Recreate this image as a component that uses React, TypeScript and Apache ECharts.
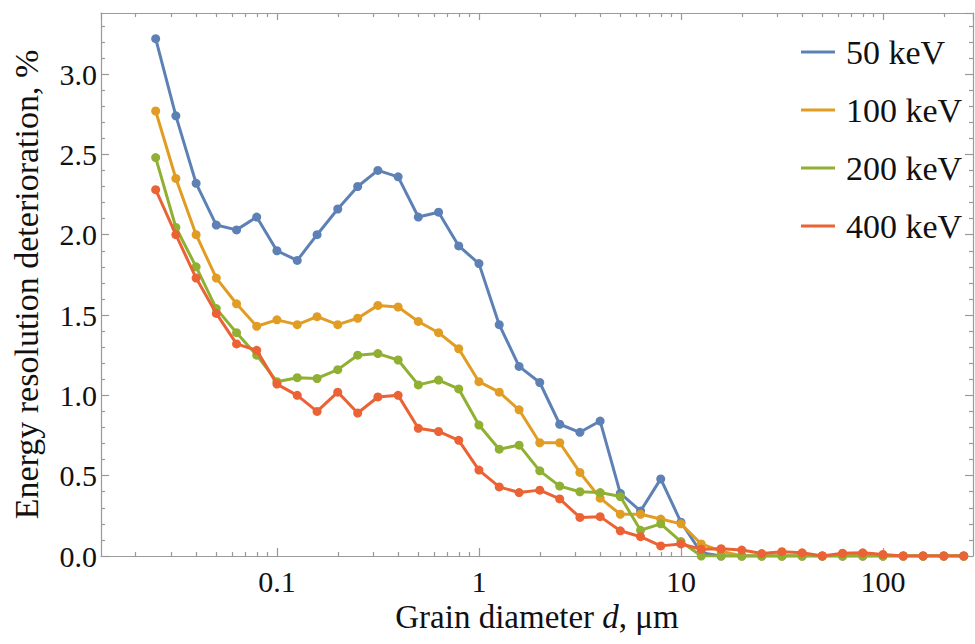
import React, { useEffect, useRef } from "react";
import * as echarts from "echarts";

// Grain diameter d, μm (log-spaced sample points)
const diameters = [
  0.0251, 0.0316, 0.0398, 0.0501, 0.0631, 0.0794, 0.1, 0.126, 0.158, 0.2,
  0.251, 0.316, 0.398, 0.501, 0.631, 0.794, 1, 1.26, 1.58, 2,
  2.51, 3.16, 3.98, 5.01, 6.31, 7.94, 10, 12.6, 15.8, 20,
  25.1, 31.6, 39.8, 50.1, 63.1, 79.4, 100, 126, 158, 200, 251,
];

const kev50 = [
  3.22, 2.74, 2.32, 2.06, 2.03, 2.11, 1.9, 1.84, 2.0, 2.16,
  2.3, 2.4, 2.36, 2.11, 2.14, 1.93, 1.82, 1.44, 1.18, 1.08,
  0.82, 0.77, 0.84, 0.39, 0.28, 0.48, 0.21, 0.02, 0, 0,
  0, 0, 0, 0, 0, 0, 0, 0, 0, 0, 0,
];
const kev100 = [
  2.77, 2.35, 2.0, 1.73, 1.57, 1.43, 1.47, 1.44, 1.49, 1.44,
  1.48, 1.56, 1.55, 1.46, 1.39, 1.29, 1.085, 1.02, 0.91, 0.705,
  0.705, 0.52, 0.36, 0.26, 0.26, 0.23, 0.2, 0.075, 0.03, 0,
  0, 0, 0, 0, 0, 0, 0, 0, 0, 0, 0,
];
const kev200 = [
  2.48, 2.045, 1.8, 1.54, 1.39, 1.25, 1.085, 1.11, 1.105, 1.16,
  1.25, 1.26, 1.22, 1.065, 1.095, 1.04, 0.815, 0.665, 0.69, 0.53,
  0.435, 0.4, 0.395, 0.37, 0.16, 0.2, 0.09, 0.0, 0, 0,
  0, 0, 0, 0, 0, 0, 0, 0, 0, 0, 0,
];
const kev400 = [
  2.28, 2.0, 1.73, 1.51, 1.32, 1.28, 1.07, 1.0, 0.9, 1.02,
  0.89, 0.99, 1.0, 0.795, 0.775, 0.72, 0.535, 0.43, 0.395, 0.41,
  0.355, 0.24, 0.245, 0.157, 0.12, 0.063, 0.075, 0.042, 0.045, 0.037,
  0.015, 0.027, 0.02, 0, 0.017, 0.02, 0.01, 0, 0, 0, 0,
];

const seriesNames = ["50 keV", "100 keV", "200 keV", "400 keV"];
const seriesColors = ["#5E81B5", "#E19C24", "#8FB032", "#EB6235"];
const seriesValues = [kev50, kev100, kev200, kev400];

const xMin = 0.01346;
const xMax = 279;
const yMin = 0;
const yMax = 3.38;

const xMinorTicks = [
  0.02, 0.03, 0.04, 0.05, 0.06, 0.07, 0.08, 0.09,
  0.2, 0.3, 0.4, 0.5, 0.6, 0.7, 0.8, 0.9,
  2, 3, 4, 5, 6, 7, 8, 9,
  20, 30, 40, 50, 60, 70, 80, 90,
  200,
];
const yMinorTicks = [
  0.1, 0.2, 0.3, 0.4, 0.6, 0.7, 0.8, 0.9, 1.1, 1.2, 1.3, 1.4,
  1.6, 1.7, 1.8, 1.9, 2.1, 2.2, 2.3, 2.4, 2.6, 2.7, 2.8, 2.9,
  3.1, 3.2, 3.3,
];

const FONT = "'Times New Roman', 'Liberation Serif', 'DejaVu Serif', serif";
const FRAME = "#9a9a9a";

export default function App() {
  const ref = useRef<HTMLDivElement>(null);

  useEffect(() => {
    if (!ref.current) return;
    const chart = echarts.init(ref.current, undefined, { renderer: "svg" });

    const lg = (v: number) => Math.log10(v);
    const frameLine = { show: true, onZero: false, lineStyle: { color: FRAME, width: 1.2 } };
    const noLine = { show: false, onZero: false };

    const minorX = (position: "bottom" | "top") => ({
      type: "value",
      position,
      min: lg(xMin),
      max: lg(xMax),
      axisLine: noLine,
      axisTick: {
        show: true,
        inside: true,
        length: 4,
        customValues: xMinorTicks.map(lg),
        lineStyle: { color: FRAME, width: 1.2 },
      },
      axisLabel: { show: false },
      splitLine: { show: false },
    });

    const minorY = (position: "left" | "right") => ({
      type: "value",
      position,
      min: yMin,
      max: yMax,
      axisLine: noLine,
      axisTick: {
        show: true,
        inside: true,
        length: 4,
        customValues: yMinorTicks,
        lineStyle: { color: FRAME, width: 1.2 },
      },
      axisLabel: { show: false },
      splitLine: { show: false },
    });

    const option: any = {
      animation: false,
      backgroundColor: "#ffffff",
      textStyle: { fontFamily: FONT },
      grid: { left: 101, top: 13, right: 2, bottom: 88, containLabel: false },
      legend: {
        orient: "vertical",
        left: 796,
        top: 30,
        icon: "rect",
        itemWidth: 34,
        itemHeight: 3,
        itemGap: 24,
        data: seriesNames,
        textStyle: {
          fontFamily: FONT,
          fontSize: 34,
          lineHeight: 34,
          color: "#111",
          padding: [0, 0, 0, 6],
        },
      },
      xAxis: [
        {
          type: "log",
          logBase: 10,
          position: "bottom",
          min: xMin,
          max: xMax,
          axisLine: frameLine,
          axisTick: { show: true, inside: true, length: 8, lineStyle: { color: FRAME, width: 1.2 } },
          axisLabel: {
            show: true,
            showMinLabel: false,
            showMaxLabel: false,
            margin: 10,
            fontFamily: FONT,
            fontSize: 30,
            color: "#111",
          },
          splitLine: { show: false },
          name: "Grain diameter {i|d}, μm",
          nameLocation: "middle",
          nameGap: 37,
          nameTextStyle: {
            fontFamily: FONT,
            fontSize: 33,
            color: "#111",
            rich: { i: { fontFamily: FONT, fontSize: 33, fontStyle: "italic", color: "#111" } },
          },
        },
        {
          type: "log",
          logBase: 10,
          position: "top",
          min: xMin,
          max: xMax,
          axisLine: frameLine,
          axisTick: { show: true, inside: true, length: 7, lineStyle: { color: FRAME, width: 1.2 } },
          axisLabel: { show: false },
          splitLine: { show: false },
        },
        minorX("bottom"),
        minorX("top"),
      ],
      yAxis: [
        {
          type: "value",
          position: "left",
          min: yMin,
          max: yMax,
          interval: 0.5,
          axisLine: frameLine,
          axisTick: { show: true, inside: true, length: 8, lineStyle: { color: FRAME, width: 1.2 } },
          axisLabel: {
            show: true,
            showMaxLabel: false,
            margin: 4,
            fontFamily: FONT,
            fontSize: 30,
            color: "#111",
            formatter: (v: number) => v.toFixed(1),
          },
          splitLine: { show: false },
          name: "Energy resolution deterioration, %",
          nameLocation: "middle",
          nameGap: 58,
          nameTextStyle: { fontFamily: FONT, fontSize: 34, color: "#111" },
        },
        {
          type: "value",
          position: "right",
          min: yMin,
          max: yMax,
          interval: 0.5,
          axisLine: frameLine,
          axisTick: { show: true, inside: true, length: 8, lineStyle: { color: FRAME, width: 1.2 } },
          axisLabel: { show: false },
          splitLine: { show: false },
        },
        minorY("left"),
        minorY("right"),
      ],
      series: seriesNames.map((name, i) => ({
        name,
        type: "line",
        xAxisIndex: 0,
        yAxisIndex: 0,
        data: diameters.map((d, j) => [d, seriesValues[i][j]]),
        symbol: "circle",
        symbolSize: 9,
        showSymbol: true,
        color: seriesColors[i],
        lineStyle: { color: seriesColors[i], width: 3 },
        itemStyle: { color: seriesColors[i] },
        clip: true,
        z: 2 + i,
      })),
    };

    chart.setOption(option);
    return () => chart.dispose();
  }, []);

  return (
    <div
      ref={ref}
      style={{ position: "absolute", left: 0, top: 0, width: 975, height: 644 }}
    />
  );
}
